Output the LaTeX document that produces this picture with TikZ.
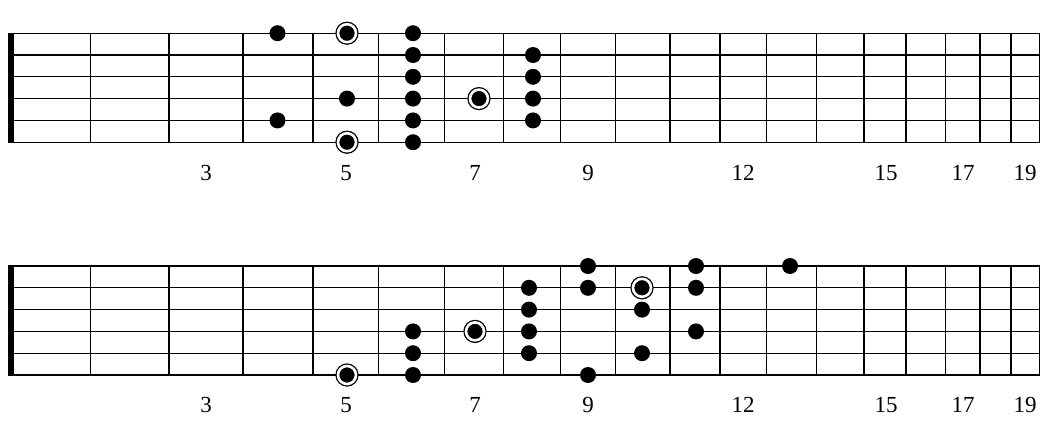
\documentclass[tikz,border=0pt]{standalone}
\usepackage{fontspec}
\setmainfont{Liberation Serif}
\pgfdeclarelayer{nodelayer}
\pgfdeclarelayer{edgelayer}
\pgfsetlayers{edgelayer,nodelayer,main}
\tikzstyle{dot}=[fill=black, shape=circle, inner sep=0pt, minimum size=16pt]
\tikzstyle{root}=[fill=black, draw=black, shape=circle, inner sep=0pt, minimum size=18pt, line width=1.3pt, double=white, double distance=2.6pt]
\tikzstyle{string}=[line width=1.3pt]
\tikzstyle{fret}=[line width=1.5pt]
\tikzstyle{fret number}=[font=\fontsize{23}{26}\selectfont, inner sep=0pt]

\begin{document}
\begin{tikzpicture}[x=1pt, y=-1pt]
        	\useasboundingbox (0, 0) rectangle (1047, 434);
        	% the two fretboards
        	\begin{pgfonlayer}{edgelayer}
        		\foreach \board in {0, 232.8} {
        			\begin{scope}[shift={(0, \board)}]
        				\foreach \y in {33.2, 55, 76.8, 98.6, 120.4, 142.2}
        					\draw [style=string] (8, \y) -- (1040, \y);
        				\foreach \x in {90.7, 169, 243, 313, 378.7, 444.7, 503.3, 560.7, 615.3, 670, 720, 766.7, 816.7, 864, 906, 945.3, 980, 1011, 1039.3}
        					\draw [style=fret] (\x, 33.2) -- (\x, 142.2);
        				\fill (8, 32.5) rectangle (13.5, 142.9);
        			\end{scope}
        		}
        	\end{pgfonlayer}
        	% upper pattern
        	\begin{pgfonlayer}{nodelayer}
        		\node [style=dot] (t0) at (277.5, 33.2) {};
        		\node [style=dot] (t1) at (277.5, 120.4) {};
        		\node [style=root] (t2) at (347, 33.2) {};
        		\node [style=dot] (t3) at (347, 98.6) {};
        		\node [style=root] (t4) at (347, 142.2) {};
        		\node [style=dot] (t5) at (413, 33.2) {};
        		\node [style=dot] (t6) at (413, 55) {};
        		\node [style=dot] (t7) at (413, 76.8) {};
        		\node [style=dot] (t8) at (413, 98.6) {};
        		\node [style=dot] (t9) at (413, 120.4) {};
        		\node [style=dot] (t10) at (413, 142.2) {};
        		\node [style=root] (t11) at (479, 98.6) {};
        		\node [style=dot] (t12) at (533, 55) {};
        		\node [style=dot] (t13) at (533, 76.8) {};
        		\node [style=dot] (t14) at (533, 98.6) {};
        		\node [style=dot] (t15) at (533, 120.4) {};
        	\end{pgfonlayer}
        	% lower pattern
        	\begin{pgfonlayer}{nodelayer}
        		\node [style=root] (b0) at (347, 375) {};
        		\node [style=dot] (b1) at (413, 331.4) {};
        		\node [style=dot] (b2) at (413, 353.2) {};
        		\node [style=dot] (b3) at (413, 375) {};
        		\node [style=root] (b4) at (475, 331.4) {};
        		\node [style=dot] (b5) at (529, 287.8) {};
        		\node [style=dot] (b6) at (529, 309.6) {};
        		\node [style=dot] (b7) at (529, 331.4) {};
        		\node [style=dot] (b8) at (529, 353.2) {};
        		\node [style=dot] (b9) at (588, 266) {};
        		\node [style=dot] (b10) at (588, 287.8) {};
        		\node [style=dot] (b11) at (588, 375) {};
        		\node [style=root] (b12) at (642, 287.8) {};
        		\node [style=dot] (b13) at (642, 309.6) {};
        		\node [style=dot] (b14) at (642, 353.2) {};
        		\node [style=dot] (b15) at (696, 266) {};
        		\node [style=dot] (b16) at (696, 287.8) {};
        		\node [style=dot] (b17) at (696, 331.4) {};
        		\node [style=dot] (b18) at (790, 266) {};
        	\end{pgfonlayer}
        	% fret numbers
        	\node [style=fret number] (n3) at (206, 173) {3};
        	\node [style=fret number] (n5) at (346, 173) {5};
        	\node [style=fret number] (n7) at (475, 173) {7};
        	\node [style=fret number] (n9) at (588, 173) {9};
        	\node [style=fret number] (n12) at (743, 173) {12};
        	\node [style=fret number] (n15) at (886, 173) {15};
        	\node [style=fret number] (n17) at (963, 173) {17};
        	\node [style=fret number] (n19) at (1025, 173) {19};
        	\node [style=fret number] (m3) at (206, 405) {3};
        	\node [style=fret number] (m5) at (346, 405) {5};
        	\node [style=fret number] (m7) at (475, 405) {7};
        	\node [style=fret number] (m9) at (588, 405) {9};
        	\node [style=fret number] (m12) at (743, 405) {12};
        	\node [style=fret number] (m15) at (886, 405) {15};
        	\node [style=fret number] (m17) at (963, 405) {17};
        	\node [style=fret number] (m19) at (1025, 405) {19};
        \end{tikzpicture}
\end{document}
